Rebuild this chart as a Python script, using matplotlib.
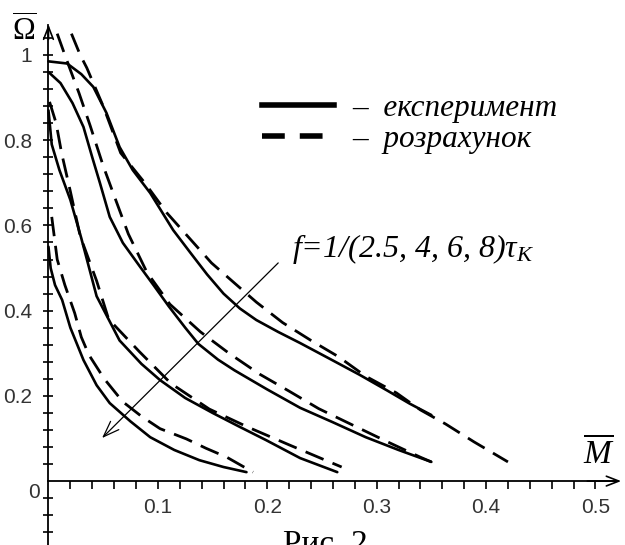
import numpy as np
import matplotlib
matplotlib.use("Agg")
import matplotlib.pyplot as plt
from matplotlib.lines import Line2D

plt.rcParams['mathtext.fontset'] = 'custom'
plt.rcParams['mathtext.rm'] = 'Liberation Serif'
plt.rcParams['mathtext.it'] = 'Liberation Serif:italic'

# experiment (solid) and calculation (dashed), f = 1/(2.5, 4, 6, 8) tau_K
exp1_x = [0, 0.017, 0.03, 0.041, 0.053, 0.065, 0.077, 0.093, 0.114, 0.13, 0.145, 0.16, 0.175, 0.19, 0.21, 0.23, 0.26, 0.284, 0.31, 0.33, 0.35]
exp1_y = [0.985, 0.98, 0.955, 0.925, 0.864, 0.784, 0.73, 0.676, 0.589, 0.535, 0.485, 0.44, 0.405, 0.378, 0.35, 0.324, 0.283, 0.25, 0.212, 0.182, 0.155]
calc1_x = [0.021, 0.029, 0.035, 0.04, 0.05, 0.066, 0.088, 0.108, 0.149, 0.169, 0.19, 0.214, 0.24, 0.265, 0.29, 0.318, 0.34, 0.363, 0.389, 0.42]
calc1_y = [1.05, 1.0, 0.97, 0.94, 0.88, 0.77, 0.70, 0.63, 0.512, 0.467, 0.42, 0.372, 0.33, 0.292, 0.246, 0.207, 0.167, 0.134, 0.092, 0.045]

exp2_x = [0, 0.011, 0.022, 0.032, 0.04, 0.047, 0.056, 0.068, 0.084, 0.096, 0.11, 0.125, 0.137, 0.155, 0.17, 0.2, 0.23, 0.26, 0.29, 0.32, 0.35]
exp2_y = [0.96, 0.934, 0.887, 0.831, 0.76, 0.70, 0.62, 0.559, 0.502, 0.46, 0.41, 0.36, 0.322, 0.285, 0.26, 0.215, 0.172, 0.138, 0.103, 0.073, 0.045]
calc2_x = [0.008, 0.015, 0.02, 0.028, 0.038, 0.05, 0.06, 0.073, 0.09, 0.111, 0.139, 0.165, 0.193, 0.22, 0.247, 0.276, 0.31, 0.34, 0.35]
calc2_y = [1.05, 1.0, 0.965, 0.91, 0.835, 0.74, 0.67, 0.58, 0.49, 0.415, 0.35, 0.3, 0.251, 0.211, 0.17, 0.134, 0.092, 0.056, 0.045]

exp3_x = [0, 0.003, 0.01, 0.02, 0.03, 0.044, 0.065, 0.085, 0.102, 0.125, 0.15, 0.175, 0.199, 0.23, 0.264]
exp3_y = [0.87, 0.79, 0.73, 0.66, 0.57, 0.434, 0.33, 0.275, 0.237, 0.195, 0.16, 0.127, 0.096, 0.054, 0.021]
calc3_x = [0.001, 0.007, 0.012, 0.02, 0.029, 0.044, 0.055, 0.083, 0.112, 0.147, 0.182, 0.22, 0.255, 0.268]
calc3_y = [0.89, 0.84, 0.77, 0.68, 0.575, 0.47, 0.38, 0.304, 0.229, 0.169, 0.127, 0.085, 0.047, 0.033]

exp4_x = [0, 0.002, 0.006, 0.0125, 0.02, 0.032, 0.044, 0.056, 0.075, 0.093, 0.115, 0.138, 0.16, 0.181]
exp4_y = [0.55, 0.5, 0.46, 0.425, 0.36, 0.284, 0.225, 0.183, 0.14, 0.103, 0.073, 0.049, 0.033, 0.021]
calc4_x = [0.003, 0.008, 0.015, 0.024, 0.03, 0.037, 0.051, 0.068, 0.085, 0.102, 0.126, 0.144, 0.163, 0.187]
calc4_y = [0.62, 0.52, 0.46, 0.394, 0.338, 0.296, 0.24, 0.186, 0.152, 0.123, 0.099, 0.077, 0.056, 0.021]

xticks = [0.1, 0.2, 0.3, 0.4, 0.5]
xtick_labels = ['0.1', '0.2', '0.3', '0.4', '0.5']
yticks = [0.2, 0.4, 0.6, 0.8, 1.0]
ytick_labels = ['0.2', '0.4', '0.6', '0.8', '1']

arrow_from = (0.21, 0.512)
arrow_to = (0.049, 0.101)

fig = plt.figure(figsize=(6.25, 5.45), dpi=100)
ax = fig.add_axes([0, 0, 1, 1])
ax.set_xlim(-0.0443, 0.527)
ax.set_ylim(-0.150, 1.129)

for xs, ys in [(exp1_x, exp1_y), (exp2_x, exp2_y), (exp3_x, exp3_y), (exp4_x, exp4_y)]:
    ax.plot(xs, ys, color='black', lw=1.9, solid_capstyle='round', solid_joinstyle='round')
for xs, ys in [(calc1_x, calc1_y), (calc2_x, calc2_y), (calc3_x, calc3_y), (calc4_x, calc4_y)]:
    ax.plot(xs, ys, color='black', lw=2.0, dashes=(7, 3.5))

# axes through the origin, Maple style
for s in ['top', 'right']:
    ax.spines[s].set_visible(False)
ax.spines['left'].set_position(('data', 0))
ax.spines['bottom'].set_position(('data', 0))
ax.spines['left'].set_bounds(-0.15, 1.07)
ax.spines['bottom'].set_bounds(0, 0.52)
ax.spines['left'].set_linewidth(1.3)
ax.spines['bottom'].set_linewidth(1.3)
ax.annotate('', xy=(0, 1.078), xytext=(0, 1.03),
            arrowprops=dict(arrowstyle='->,head_length=0.9,head_width=0.35', lw=1.2, mutation_scale=10))
ax.annotate('', xy=(0.526, 0), xytext=(0.49, 0),
            arrowprops=dict(arrowstyle='->,head_length=0.9,head_width=0.35', lw=1.2, mutation_scale=10))

ax.set_xticks(xticks)
ax.set_xticklabels(xtick_labels)
ax.set_xticks(np.arange(0.02, 0.52, 0.02), minor=True)
ax.set_yticks(yticks)
ax.set_yticklabels(ytick_labels)
ax.set_yticks([v for v in np.arange(-0.12, 1.05, 0.04) if abs(v) > 1e-6], minor=True)
ax.tick_params(axis='x', which='both', direction='out', length=6, width=1.2, pad=6,
               labelsize=15, labelcolor='#333333')
ax.tick_params(axis='y', which='both', direction='inout', length=7, width=1.2, pad=8,
               labelsize=15, labelcolor='#333333')
for lab in ax.get_xticklabels() + ax.get_yticklabels():
    lab.set_family('Liberation Sans')
ax.text(-0.013, -0.026, '0', fontsize=15, color='#333333', family='Liberation Sans',
        ha='center', va='center')

# axis names
ax.text(-0.022, 1.058, r'$\overline{\Omega}$', fontsize=22, ha='center', va='center')
ax.text(0.503, 0.066, r'$\overline{M}$', fontsize=24, ha='center', va='center')

# legend
handles = [Line2D([], [], color='black', lw=4),
           Line2D([], [], color='black', lw=4, dashes=(4.1, 2.7))]
leg = ax.legend(handles, ['–  експеримент', '–  розрахунок'], loc='upper left',
                bbox_to_anchor=(0.374, 0.879), frameon=False, handlelength=2.3,
                handletextpad=0.6, labelspacing=0.05,
                prop=dict(family='Liberation Serif', style='italic', size=22.5))

# frequency annotation
ax.annotate('', xy=arrow_to, xytext=arrow_from,
            arrowprops=dict(arrowstyle='->,head_length=1.15,head_width=0.42', lw=0.9,
                            color='black', mutation_scale=10, shrinkA=0, shrinkB=0))
ax.text(0.2226, 0.545, 'f=1/(2.5, 4, 6, 8)τ$_K$', fontsize=23, family='Liberation Serif',
        style='italic', ha='left', va='center')

fig.text(0.52, 0.0, 'Рис. 2', fontsize=24, family='Liberation Serif', ha='center', va='center')

fig.savefig('out.png', dpi=100)
